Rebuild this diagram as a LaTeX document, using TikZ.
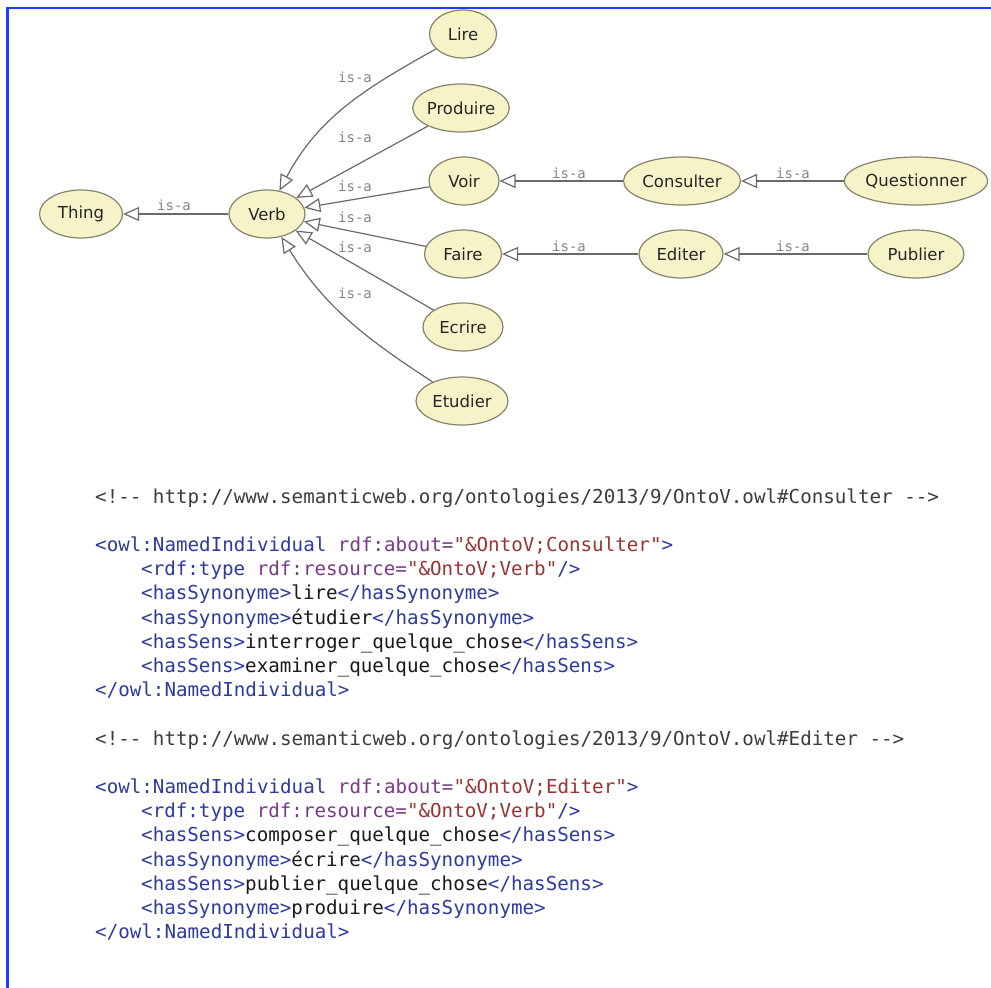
\documentclass[tikz,border=0pt]{standalone}
\usepackage{fontspec}
\setmainfont{DejaVu Sans}
\setmonofont{DejaVu Sans Mono}
\newfontfamily\lblfont{DejaVu Sans Mono}
\usetikzlibrary{shapes.geometric,arrows.meta}
\definecolor{nodefill}{HTML}{F7F3C8}
\definecolor{nodedraw}{HTML}{85836A}
\definecolor{edgecol}{HTML}{6A6A6A}
\definecolor{lblcol}{HTML}{858585}
\definecolor{frameblue}{HTML}{1E3CFF}
\definecolor{cmtcol}{HTML}{3C3C3C}
\definecolor{tagcol}{HTML}{2E3A9E}
\definecolor{attcol}{HTML}{7A3A86}
\definecolor{valcol}{HTML}{9A3434}
\definecolor{txtcol}{HTML}{1A1A1A}
\newcommand{\xtag}[1]{\textcolor{tagcol}{#1}}
\newcommand{\xatt}[1]{\textcolor{attcol}{#1}}
\newcommand{\xval}[1]{\textcolor{valcol}{#1}}
\newcommand{\xcmt}[1]{\textcolor{cmtcol}{#1}}
\begin{document}
\begin{tikzpicture}[x=1pt,y=1pt,
  cls/.style={ellipse,draw=nodedraw,fill=nodefill,line width=1.2pt,minimum height=48pt,inner sep=0pt,
    font=\fontsize{16.5}{19}\selectfont,text=black!85},
  isa/.style={draw=edgecol,line width=1.2pt,-{Triangle[open,length=16pt,width=14pt,fill=white]}},
  lbl/.style={font=\lblfont\fontsize{14}{16}\selectfont,text=lblcol,inner sep=0pt},
  code/.style={anchor=base west,inner sep=0pt,font=\ttfamily\fontsize{19.2}{24}\selectfont,text=txtcol}]
\useasboundingbox (0,0) rectangle (991,-988);
\fill[white] (0,0) rectangle (991,-988);
\draw[frameblue,line width=2.5pt] (7.5,-988) -- (7.5,-8) -- (991,-8);

% classes
\node[cls,minimum width=83pt] (thing) at (81,-214) {Thing};
\node[cls,minimum width=76pt] (verb) at (267,-214) {Verb};
\node[cls,minimum width=67pt] (lire) at (463,-34) {Lire};
\node[cls,minimum width=92pt] (produire) at (461,-108) {Produire};
\node[cls,minimum width=70pt] (voir) at (464,-181) {Voir};
\node[cls,minimum width=77pt] (faire) at (463,-254) {Faire};
\node[cls,minimum width=80pt] (ecrire) at (463,-327) {Ecrire};
\node[cls,minimum width=92pt] (etudier) at (462,-401) {Etudier};
\node[cls,minimum width=117pt] (consulter) at (682,-181) {Consulter};
\node[cls,minimum width=140pt] (questionner) at (916,-181) {Questionner};
\node[cls,minimum width=84pt] (editer) at (681,-254) {Editer};
\node[cls,minimum width=96pt] (publier) at (916,-254) {Publier};

% is-a edges
\draw[isa] (verb) -- (thing);
\draw[isa] (lire) to[out=209,in=62] (verb);
\draw[isa] (produire) -- (verb);
\draw[isa] (voir) -- (verb);
\draw[isa] (faire) -- (verb);
\draw[isa] (ecrire) -- (verb);
\draw[isa] (etudier) to[out=147,in=-58] (verb);
\draw[isa] (consulter) -- (voir);
\draw[isa] (questionner) -- (consulter);
\draw[isa] (editer) -- (faire);
\draw[isa] (publier) -- (editer);

% labels
\node[lbl] (l0) at (174,-205) {is-a};
\node[lbl] (l1) at (355,-77) {is-a};
\node[lbl] (l2) at (355,-137) {is-a};
\node[lbl] (l3) at (355,-186) {is-a};
\node[lbl] (l4) at (355,-217) {is-a};
\node[lbl] (l5) at (355,-247) {is-a};
\node[lbl] (l6) at (355,-293) {is-a};
\node[lbl] (l7) at (569,-173) {is-a};
\node[lbl] (l8) at (793,-173) {is-a};
\node[lbl] (l9) at (569,-246) {is-a};
\node[lbl] (l10) at (793,-246) {is-a};

% code
\node[code] (c1) at (95,-503) {\xcmt{<!-- http://www.semanticweb.org/ontologies/2013/9/OntoV.owl\#Consulter -->}};
\node[code] (c2) at (95,-551.4) {\xtag{<owl:NamedIndividual} \xatt{rdf:about=}\xval{"\&OntoV;Consulter"}\xtag{>}};
\node[code] (c3) at (141,-575.6) {\xtag{<rdf:type} \xatt{rdf:resource=}\xval{"\&OntoV;Verb"}\xtag{/>}};
\node[code] (c4) at (141,-599.8) {\xtag{<hasSynonyme>}lire\xtag{</hasSynonyme>}};
\node[code] (c5) at (141,-624) {\xtag{<hasSynonyme>}étudier\xtag{</hasSynonyme>}};
\node[code] (c6) at (141,-648.2) {\xtag{<hasSens>}interroger\textunderscore quelque\textunderscore chose\xtag{</hasSens>}};
\node[code] (c7) at (141,-672.4) {\xtag{<hasSens>}examiner\textunderscore quelque\textunderscore chose\xtag{</hasSens>}};
\node[code] (c8) at (95,-696.6) {\xtag{</owl:NamedIndividual>}};
\node[code] (c9) at (95,-745) {\xcmt{<!-- http://www.semanticweb.org/ontologies/2013/9/OntoV.owl\#Editer -->}};
\node[code] (c10) at (95,-793.4) {\xtag{<owl:NamedIndividual} \xatt{rdf:about=}\xval{"\&OntoV;Editer"}\xtag{>}};
\node[code] (c11) at (141,-817.6) {\xtag{<rdf:type} \xatt{rdf:resource=}\xval{"\&OntoV;Verb"}\xtag{/>}};
\node[code] (c12) at (141,-841.8) {\xtag{<hasSens>}composer\textunderscore quelque\textunderscore chose\xtag{</hasSens>}};
\node[code] (c13) at (141,-866) {\xtag{<hasSynonyme>}écrire\xtag{</hasSynonyme>}};
\node[code] (c14) at (141,-890.2) {\xtag{<hasSens>}publier\textunderscore quelque\textunderscore chose\xtag{</hasSens>}};
\node[code] (c15) at (141,-914.4) {\xtag{<hasSynonyme>}produire\xtag{</hasSynonyme>}};
\node[code] (c16) at (95,-938.6) {\xtag{</owl:NamedIndividual>}};
\end{tikzpicture}
\end{document}
